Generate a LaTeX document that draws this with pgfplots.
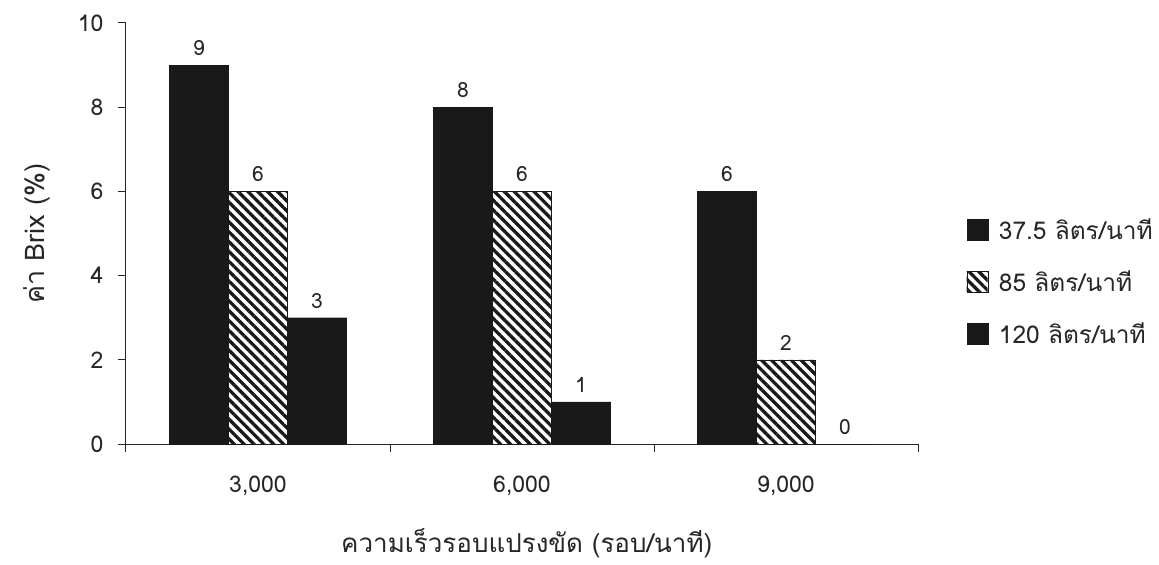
\documentclass[border=0pt]{standalone}
\usepackage{fontspec}
\setmainfont{Loma}[Script=Thai]
\usepackage{pgfplots}
\pgfplotsset{compat=1.18}
\usetikzlibrary{patterns.meta}
\begin{document}
\begin{tikzpicture}
\useasboundingbox (-126bp,-121bp) rectangle (1033bp,444bp);
\begin{axis}[
  at={(0,0)}, anchor=south west,
  scale only axis, width=792bp, height=421bp,
  xmin=-0.5, xmax=2.5, ymin=0, ymax=10,
  axis x line*=bottom, axis y line*=left,
  axis line style={line width=1pt, black!85},
  ybar=0pt, bar width=59bp,
  xtick={0,1,2}, xticklabels={{3,000},{6,000},{9,000}},
  minor xtick={-0.5,0.5,1.5,2.5},
  major x tick style={draw=none},
  every minor tick/.append style={line width=1pt, black!85},
  every major tick/.append style={line width=1pt, black!85},
  minor tick length=8bp, major tick length=8bp,
  tick align=outside,
  ytick={0,2,4,6,8,10},
  /pgf/number format/assume math mode=true,
  tick label style={font=\fontsize{23bp}{27bp}\selectfont, text=black!85},
  xticklabel style={yshift=-20bp},
  yticklabel style={xshift=-11bp},
  ylabel={ค่า Brix (\%)},
  xlabel={ความเร็วรอบแปรงขัด (รอบ/นาที)},
  label style={text=black!85},
  ylabel style={font=\fontsize{27bp}{31bp}\selectfont, at={(axis description cs:-0.112,0.5)}, anchor=center},
  xlabel style={font=\fontsize{26bp}{30bp}\selectfont, at={(axis description cs:0.506,-0.235)}, anchor=center},
  nodes near coords,
  every node near coord/.append style={font=\fontsize{21bp}{25bp}\selectfont, text=black!85, yshift=6bp},
  legend image code/.code={\draw[#1] (0bp,-10.5bp) rectangle (21bp,10.5bp); \path (32bp,0);},
  legend cell align=left,
  legend style={at={(axis description cs:1.061,0.385)}, anchor=west, draw=none, inner sep=0pt,
    font=\fontsize{24.5bp}{28bp}\selectfont, text=black!85,
    nodes={inner sep=0pt},
    row sep=30bp},
]
\addplot[fill=black!90, draw=black!90] coordinates {(0,9) (1,8) (2,6)};
\addplot[pattern={Lines[angle=-45,distance=7pt,line width=3.3pt]}, pattern color=black!90, draw=black!90] coordinates {(0,6) (1,6) (2,2)};
\addplot[fill=black!90, draw=black!90] coordinates {(0,3) (1,1) (2,0)};
\legend{37.5 ลิตร/นาที, 85 ลิตร/นาที, 120 ลิตร/นาที}
\end{axis}
\end{tikzpicture}
\end{document}
